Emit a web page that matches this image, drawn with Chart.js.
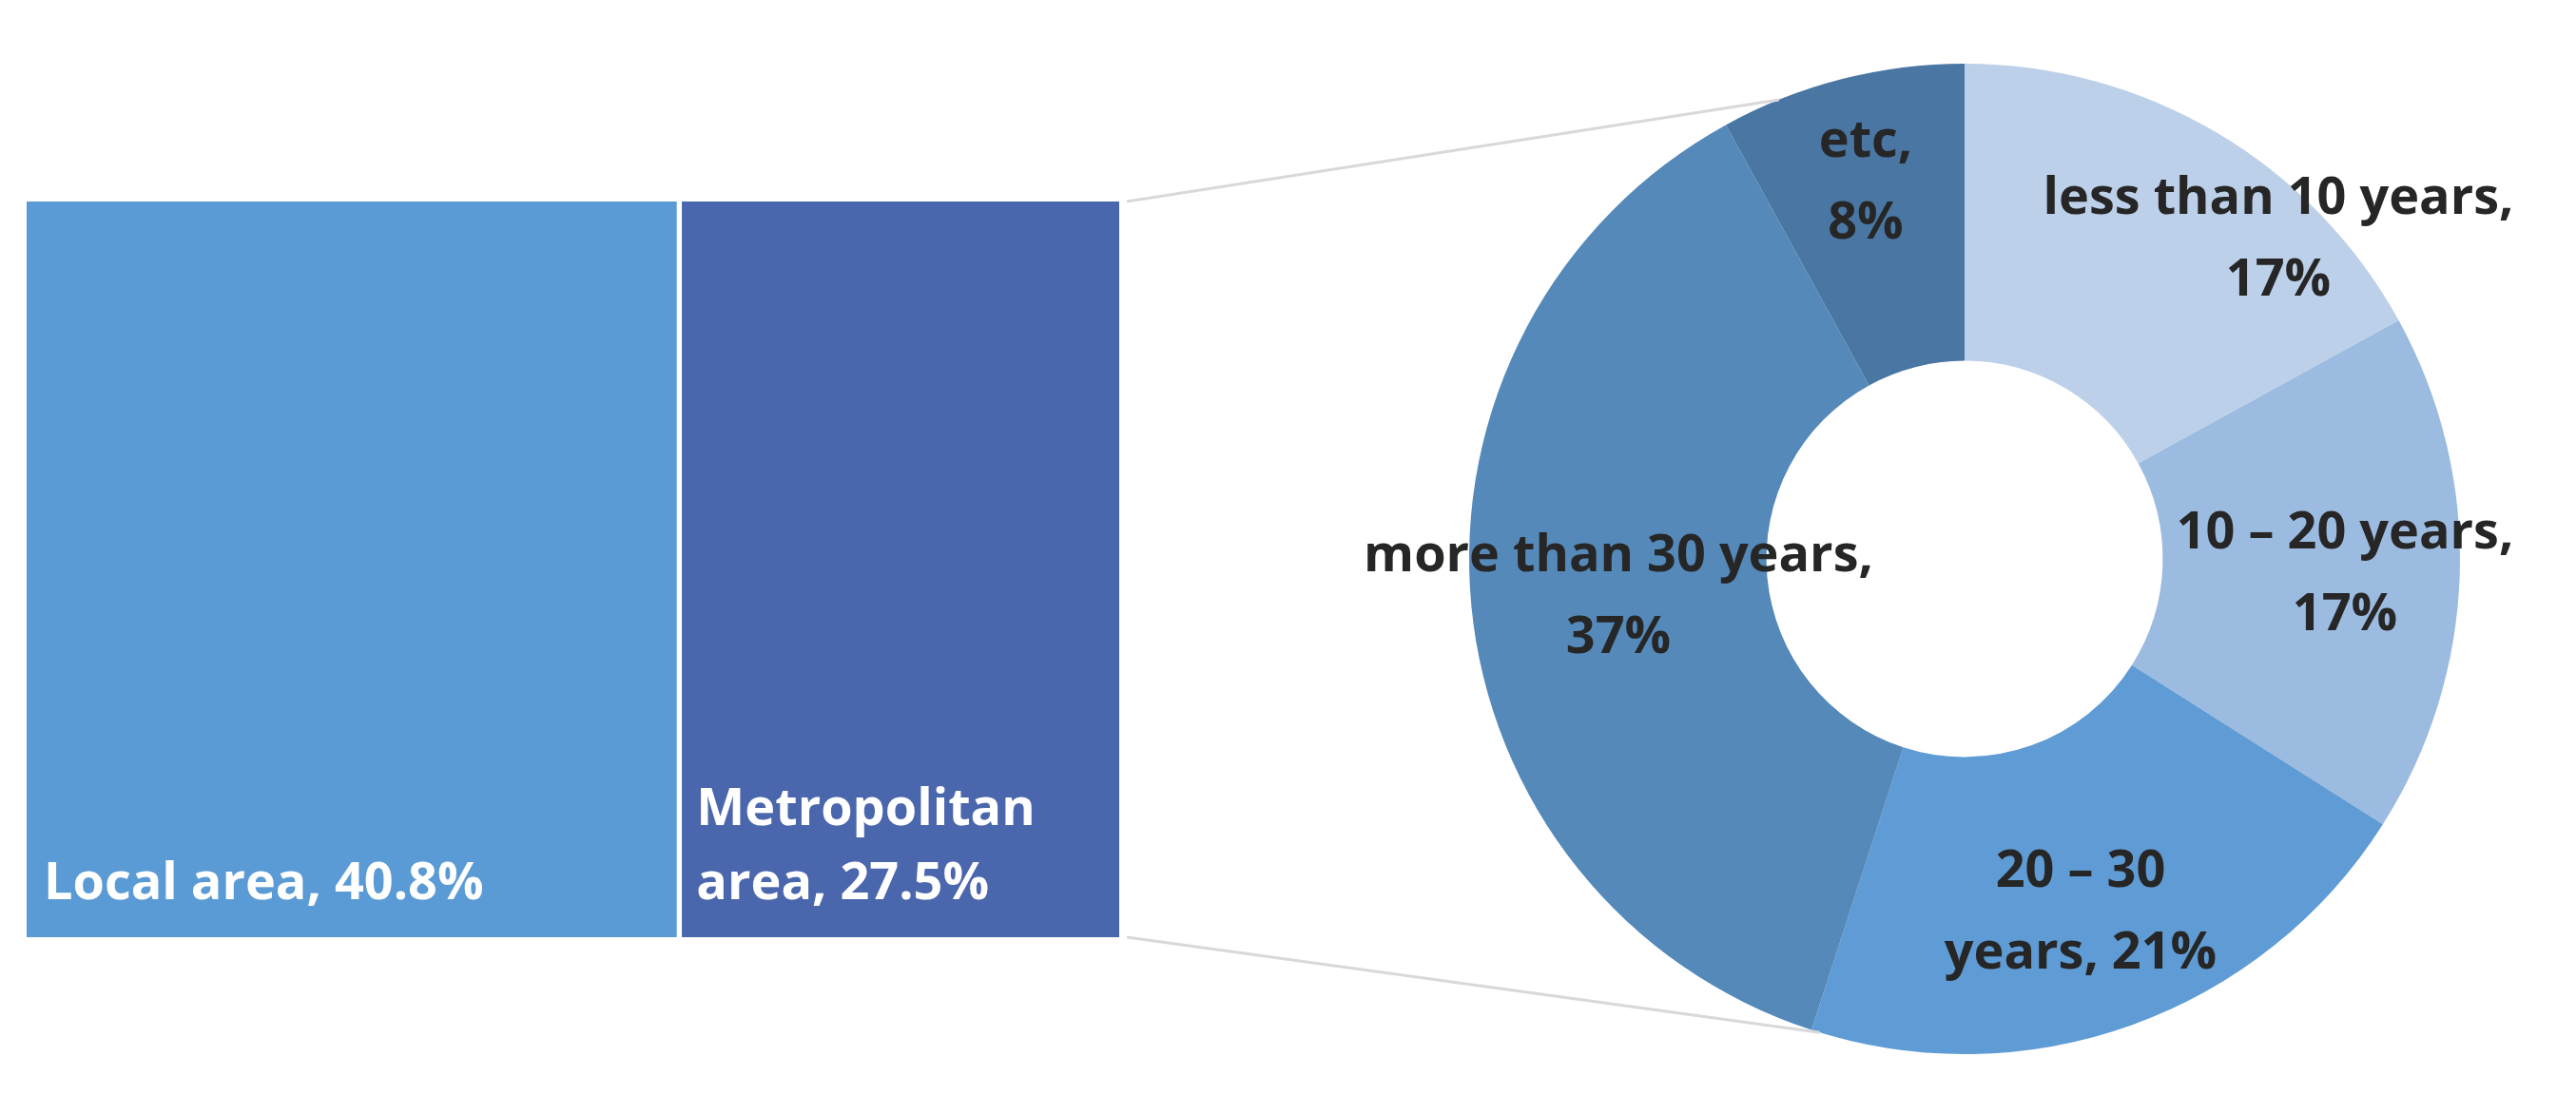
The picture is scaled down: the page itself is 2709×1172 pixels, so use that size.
<!DOCTYPE html>
<html><head><meta charset="utf-8">
<script src="https://cdn.jsdelivr.net/npm/chart.js@4"></script>
<style>
html,body{margin:0;padding:0;background:#fff;width:2709px;height:1172px;overflow:hidden}
canvas{position:absolute}
</style></head><body>
<canvas id="bar" style="left:0;top:0;width:1200px;height:1172px"></canvas>
<canvas id="pie" style="left:1200px;top:0;width:1509px;height:1172px"></canvas>
<canvas id="lines" style="left:0;top:0;width:2709px;height:1172px;pointer-events:none"></canvas>
<script>
const areaLabels = [["Local area, 40.8%"], ["Metropolitan", "area, 27.5%"]];
const areaValues = [40.8, 27.5];
const areaColors = ["#5B9BD5", "#4A66AC"];
const ageCategories = ["less than 10 years", "10 – 20 years", "20 – 30 years", "more than 30 years", "etc"];
const ageValues = [17, 17, 21, 37, 8];
const ageLabelLines = [["less than 10 years,", "17%"], ["10 – 20 years,", "17%"], ["20 – 30", "years, 21%"], ["more than 30 years,", "37%"], ["etc,", "8%"]];
const ageColors = ["#BDD0E9", "#9CBBE0", "#5F9BD4", "#5489BA", "#4A76A3"];
const labelOffsets = [[330,-335],[400,17],[122,373],[-364,41],[-104,-395]];
const FONT = "bold 54px 'Open Sans', 'DejaVu Sans', sans-serif";

Chart.defaults.animation = false;
Chart.defaults.devicePixelRatio = 1;

const barLabelPlugin = {
  id: 'barLabels',
  afterDatasetsDraw(chart) {
    const ctx = chart.ctx;
    ctx.save();
    ctx.font = FONT; ctx.fillStyle = '#fff'; ctx.textBaseline = 'alphabetic'; ctx.textAlign='left';
    chart.data.datasets.forEach((ds, i) => {
      const el = chart.getDatasetMeta(i).data[0];
      const left = el.base, bottom = el.y + el.height / 2;
      const lines = areaLabels[i];
      lines.forEach((t, j) => {
        ctx.fillText(t, left + 18, bottom - 40 - (lines.length - 1 - j) * 78);
      });
    });
    ctx.restore();
  }
};

const barChart = new Chart(document.getElementById('bar'), {
  type: 'bar',
  data: {
    labels: ['area'],
    datasets: areaValues.map((v, i) => ({
      label: areaLabels[i].join(' '), data: [v], backgroundColor: areaColors[i],
      borderColor: '#fff', borderWidth: i === 0 ? {right: 3} : {left: 3}, borderSkipped: false,
      barPercentage: 1, categoryPercentage: 1
    }))
  },
  options: {
    indexAxis: 'y', responsive: false,
    layout: {padding: {left: 28, right: 23, top: 212, bottom: 186}},
    scales: {
      x: {stacked: true, display: false, min: 0, max: areaValues.reduce((a,b)=>a+b,0)},
      y: {stacked: true, display: false}
    },
    plugins: {legend: {display: false}, tooltip: {enabled: false}}
  },
  plugins: [barLabelPlugin]
});

const pieLabelPlugin = {
  id: 'pieLabels',
  afterDatasetsDraw(chart) {
    const ctx = chart.ctx;
    const arc = chart.getDatasetMeta(0).data[0];
    ctx.save();
    ctx.font = FONT; ctx.fillStyle = '#262626'; ctx.textAlign = 'center'; ctx.textBaseline = 'middle';
    ageLabelLines.forEach((lines, i) => {
      const cx = arc.x + labelOffsets[i][0], cy = arc.y + labelOffsets[i][1];
      lines.forEach((t, j) => ctx.fillText(t, cx, cy + (j - (lines.length - 1) / 2) * 86));
    });
    ctx.restore();
  }
};

const pieChart = new Chart(document.getElementById('pie'), {
  type: 'doughnut',
  data: {
    labels: ageCategories,
    datasets: [{data: ageValues, backgroundColor: ageColors, borderWidth: 0}]
  },
  options: {
    responsive: false, cutout: '40%',
    layout: {padding: {left: 345, right: 122, top: 67, bottom: 63}},
    plugins: {legend: {display: false}, tooltip: {enabled: false}}
  },
  plugins: [pieLabelPlugin]
});

// connector lines from the metropolitan bar to the doughnut
(function () {
  const c = document.getElementById('lines');
  c.width = 2709; c.height = 1172;
  const ctx = c.getContext('2d');
  const bar = barChart.getDatasetMeta(1).data[0];
  const arc = pieChart.getDatasetMeta(0).data[0];
  const ox = 1200;
  const x0 = bar.x + 8, yTop = bar.y - bar.height / 2, yBot = bar.y + bar.height / 2;
  const R = arc.outerRadius;
  const aTop = -22 * Math.PI / 180, aBot = 197 * Math.PI / 180;
  const pTop = [ox + arc.x + R * Math.sin(aTop), arc.y - R * Math.cos(aTop)];
  const pBot = [ox + arc.x + R * Math.sin(aBot), arc.y - R * Math.cos(aBot)];
  ctx.strokeStyle = '#D9D9D9'; ctx.lineWidth = 3;
  ctx.beginPath(); ctx.moveTo(x0, yTop); ctx.lineTo(pTop[0], pTop[1]); ctx.stroke();
  ctx.beginPath(); ctx.moveTo(x0, yBot); ctx.lineTo(pBot[0], pBot[1]); ctx.stroke();
})();
</script>
</body></html>
